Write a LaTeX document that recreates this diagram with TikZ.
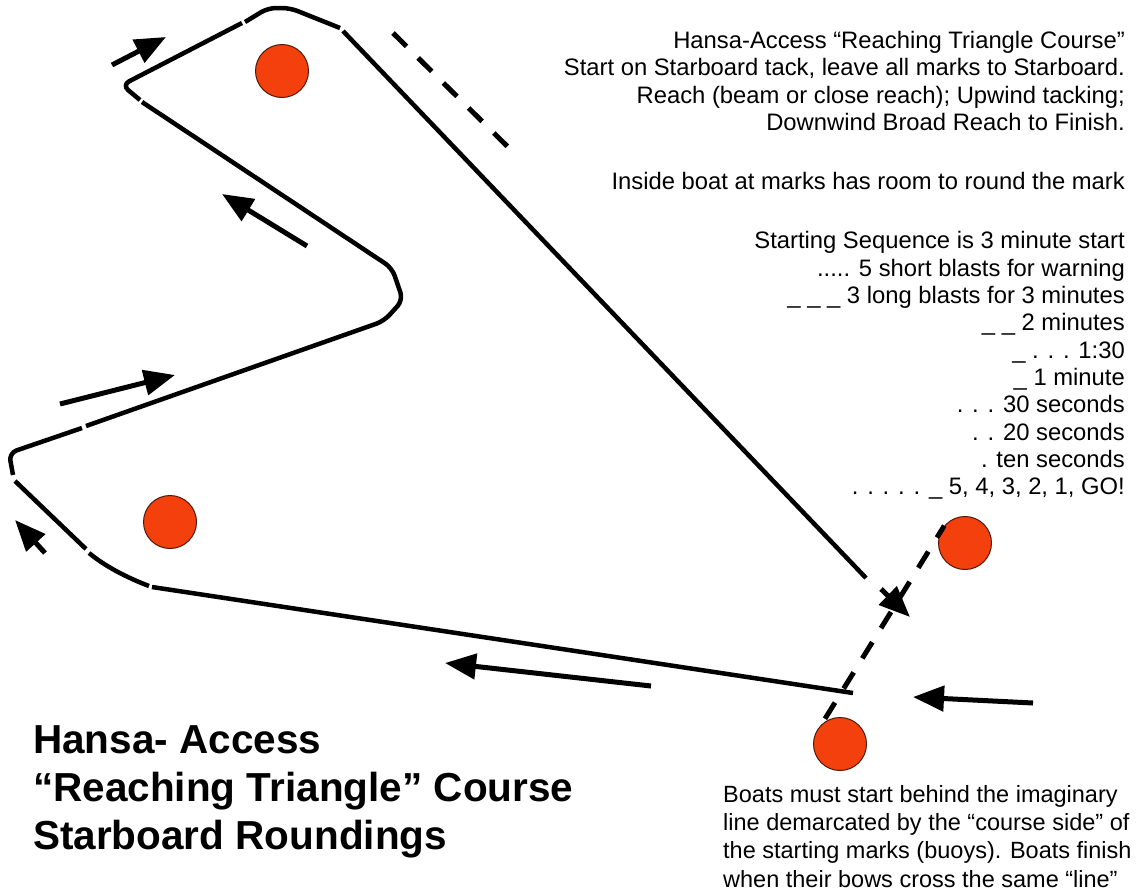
\documentclass[tikz,border=0pt]{standalone}
\usepackage{fontspec}
\setmainfont{Liberation Sans}
\usetikzlibrary{arrows.meta}
\definecolor{buoyred}{RGB}{243,64,12}
\definecolor{buoyedge}{RGB}{80,25,10}
\begin{document}
\begin{tikzpicture}
[
    x=1pt, y=-1pt,
    course/.style={line width=4.5pt, line join=round, rounded corners=8pt},
    heading/.style={line width=5pt, -{Triangle[length=31pt,width=25pt]}},
    startline/.style={line width=5pt, dash pattern=on 19pt off 16.5pt},
    buoy/.style={circle, fill=buoyred, draw=buoyedge, line width=1pt, minimum size=53pt, inner sep=0pt},
    notes/.style={font=\fontsize{23.8}{27.3}\selectfont, inner sep=0pt},
]
\useasboundingbox (0,0) rectangle (1139,895);
\node[buoy] (topmark) at (282,71) {};
\node[buoy] (leftmark) at (170,522) {};
\node[buoy] (pin) at (965,543) {};
\node[buoy] (boat) at (840,744) {};
\draw[course] (853,693) -- (152,587);
\draw[course] (149,586) .. controls (128,578) and (106,567) .. (89,553);
\draw[course] (86,549) -- (15,481);
\draw[course] (13,475) -- (9,453) -- (82,428);
\draw[course] (86,426) -- (384,321) -- (403,300) -- (392,268) -- (142,102);
\draw[course] (140,100) -- (122,85) -- (242,23);
\draw[course] (245,22) -- (268,8) -- (290,8) -- (340,28);
\draw[course] (343,31) -- (866,578);
\draw[startline] (393,33) -- (508,147);
\draw[startline, dash phase=5pt] (pin.140) -- (boat.133);
\draw[heading] (112,65) -- (166,37);
\draw[heading] (307,246) -- (222,194);
\draw[heading] (60,404) -- (175,375);
\draw[heading] (45,553) -- (15,520);
\draw[heading] (651,686) -- (445,663);
\draw[heading] (1033,703) -- (913,697);
\draw[heading] (881,589) -- (910,617);
\node[notes, anchor=north east, align=right] (rules) at (1125,31)
    {Hansa-Access “Reaching Triangle Course”\\
     Start on Starboard tack, leave all marks to Starboard.\\
     Reach (beam or close reach); Upwind tacking;\\
     Downwind Broad Reach to Finish.\\[32pt]
     Inside boat at marks has room to round the mark\\[32pt]
     Starting Sequence is 3 minute start\\
     ..... 5 short blasts for warning\\
     \_ \_ \_ 3 long blasts for 3 minutes\\
     \_ \_ 2 minutes\\
     \_ . . . 1:30\\
     \_ 1 minute\\
     . . . 30 seconds\\
     . . 20 seconds\\
     . ten seconds\\
     . . . . . \_ 5, 4, 3, 2, 1, GO!};
\node[anchor=north west, align=left, inner sep=0pt, font=\fontsize{40.5}{48.3}\selectfont\bfseries] (title) at (33,725)
    {Hansa- Access\\ “Reaching Triangle” Course\\ Starboard Roundings};
\node[notes, anchor=north west, align=left, font=\fontsize{23.5}{28.3}\selectfont] (finishnote) at (723,785)
    {Boats must start behind the imaginary\\
     line demarcated by the “course side” of\\
     the starting marks (buoys). Boats finish\\
     when their bows cross the same “line”};
\end{tikzpicture}
\end{document}
